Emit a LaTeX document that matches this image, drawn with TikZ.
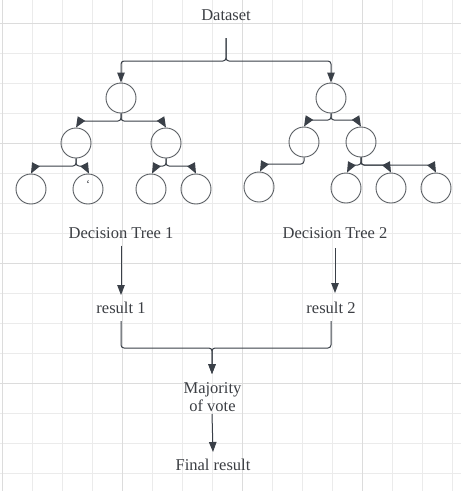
\documentclass[tikz,border=0pt]{standalone}
\usepackage{fontspec}
\setmainfont{Liberation Serif}
\usetikzlibrary{arrows.meta}
\definecolor{gridminor}{HTML}{EBEBEB}
\definecolor{gridmajor}{HTML}{DCDCDC}
\definecolor{linec}{HTML}{3A4048}
\definecolor{circc}{HTML}{5A5E63}
\definecolor{textc}{HTML}{3C3F44}
\tikzset{
  lbl/.style={text=textc, font=\fontsize{16.5}{19}\selectfont, inner sep=0pt, align=center},
  leaf/.style={circle, draw=circc, line width=0.9pt, minimum size=30pt, inner sep=0pt},
  conn/.style={draw=linec, line width=1pt, rounded corners=3pt},
  arr/.style={conn, -{Triangle[length=10pt,width=7.5pt]}},
  tip/.style={draw=linec, line width=1pt, -{Triangle[length=10.5pt,width=8.5pt]}},
}
\begin{document}
\begin{tikzpicture}[x=1pt,y=-1pt]
\useasboundingbox (0,0) rectangle (461,491);
\fill[white] (0,0) rectangle (461,491);
% grid
\foreach \gx in {2,32,...,452} \draw[gridminor, line width=0.9pt] (\gx,0) -- (\gx,491);
\foreach \gy in {23,53,...,473} \draw[gridminor, line width=0.9pt] (0,\gy) -- (461,\gy);
\foreach \gx in {2,122,242,362} \draw[gridmajor, line width=0.9pt] (\gx,0) -- (\gx,491);
\foreach \gy in {23,143,263,383} \draw[gridmajor, line width=0.9pt] (0,\gy) -- (461,\gy);

% texts
\node[lbl] (ds) at (226,15) {Dataset};
\node[lbl] (dt1) at (121,233) {Decision Tree 1};
\node[lbl] (dt2) at (335,233) {Decision Tree 2};
\node[lbl] (r1) at (121,308) {result 1};
\node[lbl] (r2) at (331,308) {result 2};
\node[lbl] (mv) at (212.5,397.5) {Majority\\[-1pt]of vote};
\node[lbl] (fr) at (213,465) {Final result};

% tree 1
\node[leaf] (a) at (121,98) {};
\node[leaf] (b1) at (76,143) {};
\node[leaf] (b2) at (166,143) {};
\node[leaf] (c1) at (31,189) {};
\node[leaf] (c2) at (88,189) {};
\node[leaf] (c3) at (151,189) {};
\node[leaf] (c4) at (196,189) {};
\node[text=textc, font=\fontsize{12}{12}\selectfont, inner sep=0pt] (tick) at (88,184) {`};

% tree 2
\node[leaf] (p) at (331,98) {};
\node[leaf] (q1) at (304,142) {};
\node[leaf] (q2) at (361,142) {};
\node[leaf] (s1) at (259,187) {};
\node[leaf] (s2) at (346,188) {};
\node[leaf] (s3) at (391,188) {};
\node[leaf] (s4) at (436,188) {};

% coordinates
\coordinate (dsb) at (226,38);
\coordinate (dj) at (226,61);
\coordinate (aj) at (121,121);
\coordinate (b1j) at (76,166);
\coordinate (b2j) at (166,166);
\coordinate (pj) at (331,120);
\coordinate (q1j) at (304,164);
\coordinate (q2j) at (361,165);
\coordinate (rj) at (212,348);

% dataset split
\draw[arr] (dsb) -- (dj) -| (a.north);
\draw[arr] (dsb) -- (dj) -| (p.north);

% tree 1 connectors
\draw[conn] (a.south) -- (aj) -- (80,121);
\draw[tip] (80,121) -- (b1.north);
\draw[conn] (a.south) -- (aj) -- (162,121);
\draw[tip] (162,121) -- (b2.north);
\draw[conn] (b1.south) -- (b1j) -- (35,166);
\draw[tip] (35,166) -- (c1.north);
\draw[conn] (b1.south) -- (b1j) -- (85,166);
\draw[tip] (85,166) -- ([xshift=1pt]c2.north);
\draw[conn] (b2.south) -- (b2j) -- (156,166);
\draw[tip] (156,166) -- ([xshift=1pt]c3.north);
\draw[conn] (b2.south) -- (b2j) -- (192,166);
\draw[tip] (192,166) -- (c4.north);

% tree 2
\draw[conn] (p.south) -- (pj) -- (308,120);
\draw[tip] (308,120) -- (q1.north);
\draw[conn] (p.south) -- (pj) -- (357,120);
\draw[tip] (357,120) -- (q2.north);
\draw[conn] (q1.south) -- (q1j) -- (264,164);
\draw[tip] (264,164) -- ([xshift=1pt]s1.north);
\draw[conn] (q2.south) -- (q2j) -- (351,165);
\draw[tip] (351,165) -- ([xshift=1pt]s2.north);
\draw[conn] (q2.south) -- (q2j) -- (387,165);
\draw[tip] (387,165) -- (s3.north);
\draw[conn] (q2.south) -- (q2j) -- (432,165);
\draw[tip] (432,165) -- (s4.north);

% lower flow
\draw[arr] ([yshift=-7pt]dt1.south) -- ([yshift=7pt]r1.north);
\draw[arr] (dt2.south |- 0,248) -- (335,293);
\draw[arr] ([yshift=-7pt]r1.south) |- (rj) -- (212,374);
\draw[arr] ([yshift=-7pt]r2.south) |- (rj) -- (212,374);
\draw[arr] (212,414) -- ([yshift=7pt]fr.north);
\end{tikzpicture}
\end{document}
